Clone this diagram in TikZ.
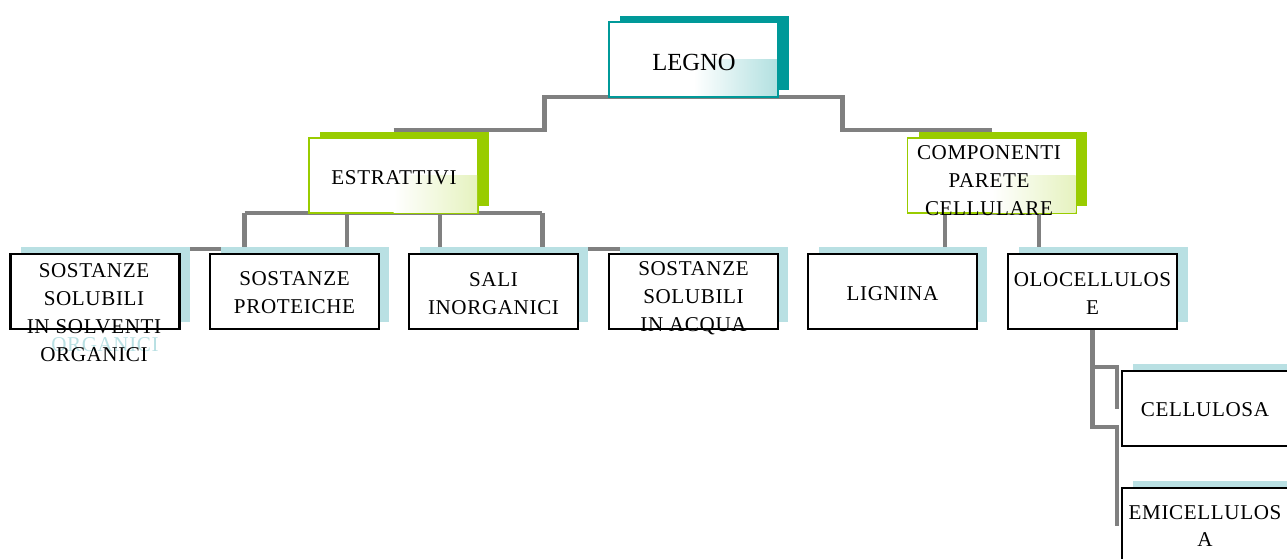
\documentclass[tikz,border=0pt]{standalone}
\usepackage{fontspec}
\setmainfont{Liberation Serif}
\newfontfamily\orgfont[LetterSpace=3]{Liberation Serif}
\usetikzlibrary{shadows,backgrounds}
\definecolor{legnoteal}{HTML}{009999}
\definecolor{estrgreen}{HTML}{99CC00}
\definecolor{shadowblue}{HTML}{B9E0E3}
\definecolor{linkgray}{HTML}{808080}

\begin{document}
\begin{tikzpicture}[x=0.02cm, y=-0.02cm,
	link/.style={line width=2.8pt, linkgray},
	orgbox/.style={rectangle, minimum width=3.38cm, minimum height=1.5cm, inner sep=0pt, outer sep=0pt, fill=white},
	topbox/.style={orgbox, draw=#1, line width=1pt, general shadow={fill=#1, shadow xshift=.22cm, shadow yshift=.13cm}},
	subbox/.style={orgbox, draw=black, line width=1.2pt, general shadow={fill=shadowblue, shadow xshift=.21cm, shadow yshift=.14cm}},
	boxtext/.style={inner sep=0pt, align=center, font=\orgfont\fontsize{12}{15.9}\selectfont}]
	\useasboundingbox (0,0) rectangle (1287,558);

	% top level
	\node[topbox=legnoteal] (legno) at (693.5,59.5) {};
	\shade[left color=white, right color=legnoteal!30] ([shift={(-.6pt,.6pt)}]legno.south east) rectangle (legno.center);
	\node[boxtext, font=\rmfamily\fontsize{14}{16}\selectfont] (legno-t) at (694,62) {LEGNO};

	\node[topbox=estrgreen] (estr) at (393.5,175.5) {};
	\shade[left color=white, right color=estrgreen!25] ([shift={(-.5pt,.5pt)}]estr.south east) rectangle (estr.center);
	\node[boxtext] (estr-t) at (394,178) {ESTRATTIVI};

	\node[topbox=estrgreen] (comp) at (992,175.5) {};
	\shade[left color=white, right color=estrgreen!25] ([shift={(-.5pt,.5pt)}]comp.south east) rectangle (comp.center);
	\node[boxtext] (comp-t) at (989,181) {COMPONENTI\\PARETE\\CELLULARE};

	% extractives
	\node[subbox] (sost) at (95,291.5) {};
	\node[boxtext, shadowblue] (sost-g) at (105,345) {ORGANICI};
	\node[boxtext] (sost-t) at (94,312.5) {SOSTANZE\\SOLUBILI\\IN SOLVENTI\\ORGANICI};

	\node[subbox] (prot) at (294.5,291.5) {};
	\node[boxtext] (prot-t) at (294.5,293) {SOSTANZE\\PROTEICHE};

	\node[subbox] (sali) at (493.5,291.5) {};
	\node[boxtext] (sali-t) at (493.5,293.5) {SALI\\INORGANICI};

	\node[subbox] (acqua) at (693.5,291.5) {};
	\node[boxtext] (acqua-t) at (693.5,298) {SOSTANZE\\SOLUBILI\\IN ACQUA};

	% cell wall
	\node[subbox] (lign) at (892.5,291.5) {};
	\node[boxtext] (lign-t) at (892.5,294) {LIGNINA};

	\node[subbox] (olo) at (1092.5,291.5) {};
	\node[boxtext] (olo-t) at (1092.5,293.5) {OLOCELLULOS\\E};

	\node[subbox] (cell) at (1206.5,408.5) {};
	\node[boxtext] (cell-t) at (1205,410) {CELLULOSA};

	\node[subbox] (emic) at (1206.5,525.5) {};
	\node[boxtext] (emic-t) at (1205,526) {EMICELLULOS\\A};

	\begin{scope}[on background layer]
		\draw[link] ([yshift=.16cm]estr.north) -| ([xshift=-2.98cm]legno.south) -- ([xshift=2.98cm]legno.south) |- ([yshift=.16cm]comp.north);

		\draw[link] ([xshift=-2.98cm]estr.south) -- ([xshift=2.98cm]estr.south);
		\foreach \dx/\sub in {-2.98/sost, -0.93/prot, 0.93/sali, 2.98/acqua}
			\draw[link] ([xshift=\dx cm]estr.south) |- ([yshift=.1cm]\sub.north);

		\draw[link] ([xshift=-.94cm]comp.south) -- ([xshift=.94cm]comp.south);
		\foreach \dx/\sub in {-0.94/lign, 0.94/olo}
			\draw[link] ([xshift=\dx cm]comp.south) |- ([yshift=.1cm]\sub.north);

		\draw[link] (olo.south) -- ++(0,38) -| ([xshift=-.1cm]cell.west);
		\draw[link] (olo.south) -- ++(0,98) -| ([xshift=-.1cm]emic.west);
	\end{scope}
\end{tikzpicture}
\end{document}
